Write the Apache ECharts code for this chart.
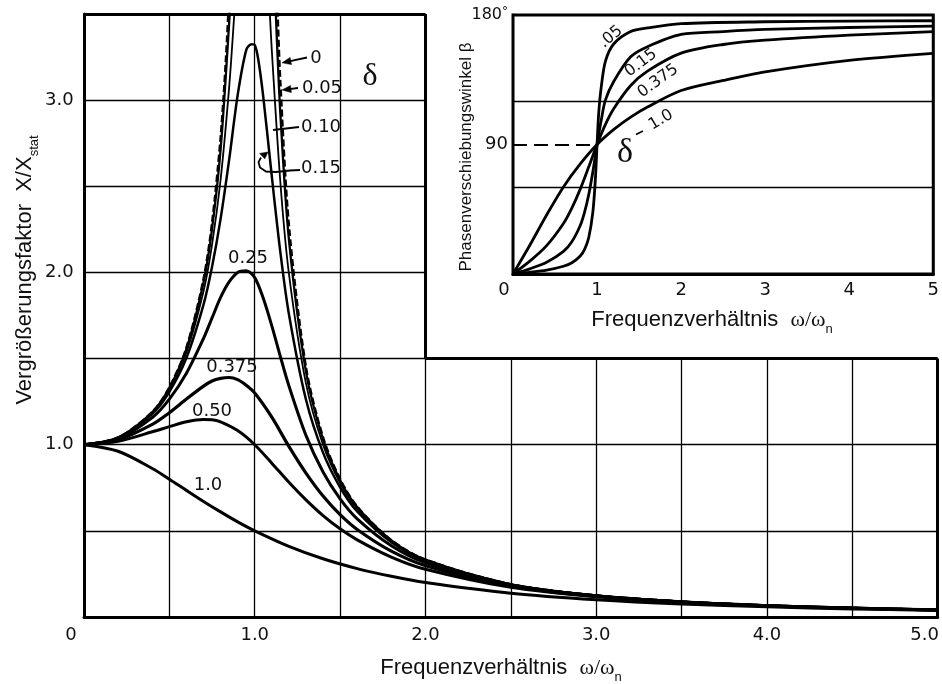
<!DOCTYPE html>
<html><head><meta charset="utf-8">
<script src="https://cdn.jsdelivr.net/npm/echarts@6/dist/echarts.min.js"></script>
<style>html,body{margin:0;padding:0;background:#fff}#c{width:942px;height:684px}</style>
</head><body><div id="c"></div>
<script>
// ---------- Vergrößerungsfaktor X/Xstat (main chart) ----------
const ampX_d0   = [0,0.2,0.4,0.5,0.6,0.7,0.75,0.8,0.83,0.85,0.87,1.0,1.12,1.13,1.15,1.2,1.3,1.4,1.5,1.6,1.8,2.0,2.5,3.0,3.5,4.0,4.5,5.0];
const ampY_d0   = [1,1.042,1.190,1.333,1.563,1.961,2.286,2.778,3.214,3.604,4.113,'-',3.931,3.611,3.101,2.273,1.449,1.042,0.800,0.641,0.446,0.333,0.190,0.125,0.089,0.067,0.052,0.042];
const ampX_d005 = [0,0.2,0.4,0.5,0.6,0.7,0.75,0.8,0.85,0.86,0.9,1.0,1.1,1.12,1.13,1.15,1.2,1.3,1.4,1.5,1.6,1.8,2.0,2.5,3.0,3.5,4.0,4.5,5.0];
const ampY_d005 = [1,1.041,1.189,1.330,1.556,1.943,2.253,2.712,3.446,3.647,4.756,'-',4.218,3.598,3.344,2.921,2.193,1.424,1.031,0.794,0.638,0.445,0.333,0.190,0.125,0.089,0.067,0.052,0.042];
const ampX_d010 = [0,0.2,0.4,0.5,0.6,0.7,0.75,0.8,0.85,0.88,0.89,0.9,1.0,1.08,1.09,1.1,1.15,1.2,1.3,1.4,1.5,1.6,1.8,2.0,2.5,3.0,3.5,4.0,4.5,5.0];
const ampY_d010 = [1,1.041,1.185,1.322,1.536,1.891,2.162,2.538,3.073,3.495,3.654,3.821,'-',3.667,3.473,3.288,2.525,1.995,1.356,1.0,0.778,0.628,0.441,0.330,0.190,0.125,0.089,0.067,0.052,0.042];
const ampX_d015 = [0,0.2,0.4,0.5,0.6,0.7,0.75,0.8,0.85,0.9,0.95,0.98,1.0,1.02,1.05,1.1,1.15,1.2,1.3,1.4,1.5,1.6,1.8,2.0,2.5,3.0,3.5,4.0,4.5,5.0];
const ampY_d015 = [1,1.040,1.179,1.307,1.504,1.813,2.033,2.311,2.653,3.029,3.29,3.325,3.32,3.24,3.019,2.557,2.118,1.759,1.262,0.954,0.753,0.613,0.434,0.327,0.189,0.124,0.089,0.067,0.052,0.042];
const ampX_d025 = [0,0.2,0.4,0.5,0.6,0.7,0.75,0.8,0.85,0.9,0.95,1.0,1.05,1.1,1.15,1.2,1.3,1.4,1.5,1.6,1.8,2.0,2.5,3.0,3.5,4.0,4.5,5.0];
const ampY_d025 = [1,1.036,1.158,1.265,1.415,1.617,1.736,1.855,1.945,2.0,2.01,1.97,1.85,1.690,1.512,1.342,1.054,0.842,0.686,0.570,0.414,0.316,0.185,0.123,0.088,0.066,0.052,0.041];
const ampX_d0375 = [0,0.2,0.4,0.5,0.6,0.7,0.75,0.8,0.85,0.9,0.95,1.0,1.1,1.2,1.3,1.4,1.5,1.6,1.8,2.0,2.5,3.0,3.5,4.0,4.5,5.0];
const ampY_d0375 = [1,1.029,1.118,1.186,1.265,1.340,1.370,1.385,1.390,1.378,1.345,1.300,1.160,0.990,0.835,0.702,0.594,0.508,0.382,0.298,0.179,0.120,0.087,0.065,0.051,0.041];
const ampX_d050 = [0,0.2,0.4,0.5,0.6,0.7,0.75,0.8,0.9,1.0,1.1,1.2,1.3,1.4,1.5,1.6,1.8,2.0,2.5,3.0,3.5,4.0,4.5,5.0];
const ampY_d050 = [1,1.020,1.075,1.105,1.133,1.146,1.145,1.133,1.082,1.0,0.893,0.782,0.680,0.589,0.512,0.448,0.348,0.277,0.172,0.117,0.085,0.064,0.051,0.041];
const ampX_d100 = [0,0.2,0.4,0.5,0.6,0.7,0.8,0.9,1.0,1.2,1.4,1.6,1.8,2.0,2.5,3.0,3.5,4.0,4.5,5.0];
const ampY_d100 = [1,0.962,0.862,0.8,0.735,0.671,0.610,0.552,0.5,0.410,0.338,0.281,0.236,0.2,0.138,0.1,0.075,0.059,0.047,0.038];

// ---------- Phasenverschiebungswinkel β (inset) ----------
const phX_d005 = [0,0.2,0.4,0.6,0.7,0.8,0.85,0.9,0.95,0.98,1.0,1.02,1.05,1.1,1.2,1.4,1.6,2.0,3.0,4.0,5.0];
const phY_d005 = [0,1.2,2.7,5.4,7.8,12.5,17,25,43,66,90,112,130,148,160,168.5,171,174,175.3,175.8,176];
const phX_d015 = [0,0.2,0.4,0.6,0.7,0.8,0.85,0.9,0.95,1.0,1.05,1.1,1.2,1.4,1.6,2.0,2.5,3.0,4.0,5.0];
const phY_d015 = [0,3.6,8.1,15.7,22.4,33.7,42.6,54.9,71.1,90,107,121,134,151,158,166.5,168.5,170,171.3,172.3];
const phX_d0375 = [0,0.2,0.4,0.6,0.7,0.8,0.9,1.0,1.1,1.2,1.4,1.6,2.0,2.5,3.0,4.0,5.0];
const phY_d0375 = [0,8.9,19.7,35.1,45.8,59,74.3,90,104,115,131,141,153.5,159.5,162.5,166,168.4];
const phX_d100 = [0,0.2,0.4,0.6,0.8,1.0,1.2,1.4,1.6,2.0,2.5,3.0,4.0,5.0];
const phY_d100 = [0,20,41,60.5,76.5,90,100.5,109,116,127.5,134.5,140.5,148.5,153.4];

// ---------- axes / grid values ----------
const mainXMax = 5.0, mainYMax = 3.5;
const mainXLabels = [0,1,2,3,4,5];
const mainYLabels = [1,2,3];
const mainGridX = [0.5,1.0,1.5,2.0,2.5,3.0,3.5,4.0,4.5];
const mainGridY = [0.5,1.0,1.5,2.0,2.5,3.0];
const insetCorner = [2.0, 1.5];          // main-plot cut-out corner (x, y)
const insetGridY = [60,120];
const insetYLabels = [90,180];
const insetRefAngle = 90, insetRefX = 1;

const pairs = (xs, ys) => xs.map((x, i) => [x, ys[i]]);

const thinSegs = [], thickSegs = [];
mainGridX.forEach(x => {
  const top = x < insetCorner[0] ? mainYMax : insetCorner[1];
  thinSegs.push([{coord:[x,0]},{coord:[x,top]}]);
});
mainGridY.forEach(y => {
  const right = y < insetCorner[1] ? mainXMax : insetCorner[0];
  thinSegs.push([{coord:[0,y]},{coord:[right,y]}]);
});
thickSegs.push([{coord:[0,mainYMax]},{coord:[insetCorner[0],mainYMax]}]);
thickSegs.push([{coord:[insetCorner[0],mainYMax]},{coord:[insetCorner[0],insetCorner[1]]}]);
thickSegs.push([{coord:[insetCorner[0],insetCorner[1]]},{coord:[mainXMax,insetCorner[1]]}]);
thickSegs.push([{coord:[mainXMax,insetCorner[1]]},{coord:[mainXMax,0]}]);

const insetSegs = insetGridY.map(v => [{coord:[0,v]},{coord:[5,v]}]);

const NUM = '"DejaVu Sans", sans-serif';
const SANS = '"Liberation Sans", Arial, sans-serif';
const SERIF = '"Liberation Serif", "Times New Roman", serif';

function ampSeries(xs, ys, width, dashed) {
  return {type:'line', xAxisIndex:0, yAxisIndex:0, data:pairs(xs, ys), symbol:'none', showSymbol:false,
    smooth:0.3, connectNulls:false, clip:true, silent:true, z:3,
    lineStyle:{color:'#000', width:width, type: dashed ? [7,3] : 'solid', cap:'butt', join:'round'}};
}
function phSeries(xs, ys, width) {
  return {type:'line', xAxisIndex:1, yAxisIndex:1, data:pairs(xs, ys), symbol:'none', showSymbol:false,
    smooth:0.3, clip:true, silent:true, z:3,
    lineStyle:{color:'#000', width:width, join:'round'}};
}
function lineMarker(xi, yi, segs, style) {
  return {type:'line', xAxisIndex:xi, yAxisIndex:yi, data:[], silent:true, clip:false, z:2,
    markLine:{silent:true, symbol:['none','none'], label:{show:false}, animation:false,
      emphasis:{disabled:true}, lineStyle:Object.assign({color:'#000'}, style), data:segs}};
}

const chart = echarts.init(document.getElementById('c'), null, {renderer:'canvas'});

const numRich = {
  n:{fontSize:18, fontFamily:NUM, color:'#111'},
  z:{fontSize:18, fontFamily:NUM, color:'#111', padding:[0,26,0,0]},
  e:{fontSize:18, fontFamily:NUM, color:'#111', padding:[0,26,0,0]},
  zi:{fontSize:18, fontFamily:NUM, color:'#111', padding:[0,18,0,0]},
  a:{fontSize:16, fontFamily:NUM, color:'#111'},
  d:{fontSize:12, fontFamily:NUM, color:'#111', verticalAlign:'top', padding:[0,0,6,0]}
};

function T(x, y, text, font, rot) {
  return {type:'text', x:x, y:y, z:100, silent:true, rotation: rot || 0,
    style:{text:text, fill:'#111', font:font, align:'center', verticalAlign:'middle',
           textAlign:'center', textVerticalAlign:'middle'}};
}
function PL(points, w) {
  return {type:'polyline', z:100, silent:true, shape:{points:points}, style:{stroke:'#000', lineWidth:w || 1.8, fill:null}};
}
function PG(points) {
  return {type:'polygon', z:100, silent:true, shape:{points:points}, style:{fill:'#000', stroke:'#000', lineWidth:0.5}};
}
const deg = Math.PI / 180;
const LBL = '18px ' + NUM;
const LBL2 = '16px ' + NUM;

const titleRich = () => ({
  a:{fontSize:22, fontFamily:SANS, lineHeight:32, verticalAlign:'middle', fill:'#111', color:'#111'},
  b:{fontSize:22, fontFamily:SERIF, lineHeight:32, verticalAlign:'middle', fill:'#111', color:'#111'},
  c:{fontSize:13, fontFamily:SANS, lineHeight:13, verticalAlign:'bottom', fill:'#111', color:'#111'}
});

const graphics = [
  {type:'text', x:501, y:668, z:100, silent:true,
   style:{text:'{a|Frequenzverhältnis  }{b|ω/ω}{c|n}', rich:titleRich(), align:'center', verticalAlign:'middle', textAlign:'center', textVerticalAlign:'middle'}},
  {type:'text', x:25, y:270, z:100, silent:true, rotation:Math.PI/2,
   style:{text:'{a|Vergrößerungsfaktor  X/X}{c|stat}', rich:titleRich(), align:'center', verticalAlign:'middle', textAlign:'center', textVerticalAlign:'middle'}},
  {type:'text', x:712, y:320, z:100, silent:true,
   style:{text:'{a|Frequenzverhältnis  }{b|ω/ω}{c|n}', rich:titleRich(), align:'center', verticalAlign:'middle', textAlign:'center', textVerticalAlign:'middle'}},
  T(466, 157, 'Phasenverschiebungswinkel β', '17px ' + SANS, Math.PI/2),

  T(316, 58, '0', LBL),
  T(322, 88, '0.05', LBL),
  T(321, 127, '0.10', LBL),
  T(321, 168, '0.15', LBL),
  T(370, 77, 'δ', '32px ' + SERIF),
  T(248, 258, '0.25', LBL),
  T(232, 367, '0.375', LBL),
  T(212, 411, '0.50', LBL),
  T(208, 485, '1.0', LBL),
  PL([[307,57.5],[289,61.3]]),
  PG([[282,62.8],[291.5,64.6],[290.1,57.4]]),
  PL([[298,88],[289,89.2]]),
  PG([[282,90],[291.4,92.6],[290.5,85.4]]),
  PL([[299,127],[273,130]]),
  PL([[300,170],[290,170.5],[276,172],[266,171.5],[260,167.5],[258.5,162],[261,157.5]]),
  PG([[268,152],[264.8,158.8],[259.6,153.4]]),

  T(611, 37, '.05', LBL2, 40*deg),
  T(641, 63, '0.15', LBL2, 37*deg),
  T(658, 81, '0.375', LBL2, 36*deg),
  T(661, 120, '1.0', LBL2, 31*deg),
  PL([[636,134.5],[643,131]], 1.8),
  T(625, 153, 'δ', '34px ' + SERIF)
];

const option = {
  animation:false,
  backgroundColor:'#fff',
  grid:[
    {left:84, right:4, top:14, bottom:67},
    {left:513, right:5, top:15, bottom:410, show:true, borderColor:'#000', borderWidth:3, backgroundColor:'#fff', z:1}
  ],
  xAxis:[
    {gridIndex:0, type:'value', min:0, max:mainXMax, interval:1,
     axisLine:{show:true, onZero:false, lineStyle:{color:'#000', width:3}}, axisTick:{show:false}, splitLine:{show:false},
     axisLabel:{margin:9, rich:numRich, showMaxLabel:true,
       formatter:v => mainXLabels.indexOf(v) < 0 ? '' : (v === 0 ? '{z|0}' : (v === mainXMax ? '{e|' + v.toFixed(1) + '}' : '{n|' + v.toFixed(1) + '}'))}},
    {gridIndex:1, type:'value', min:0, max:5, interval:1,
     axisLine:{show:true, onZero:false, lineStyle:{color:'#000', width:3}}, axisTick:{show:false},
     splitLine:{show:true, lineStyle:{color:'#000', width:1.3}},
     axisLabel:{margin:7, rich:numRich, formatter:v => v === 0 ? '{zi|0}' : '{n|' + v + '}'}}
  ],
  yAxis:[
    {gridIndex:0, type:'value', min:0, max:mainYMax, interval:0.5,
     axisLine:{show:true, onZero:false, lineStyle:{color:'#000', width:3}}, axisTick:{show:false}, splitLine:{show:false},
     axisLabel:{margin:39, align:'left', rich:numRich,
       formatter:v => mainYLabels.indexOf(v) < 0 ? '' : '{n|' + v.toFixed(1) + '}'}},
    {gridIndex:1, type:'value', min:0, max:180, interval:30,
     axisLine:{show:true, onZero:false, lineStyle:{color:'#000', width:3}}, axisTick:{show:false}, splitLine:{show:false},
     axisLabel:{margin:5, rich:numRich,
       formatter:v => insetYLabels.indexOf(v) < 0 ? '' : (v === 180 ? '{a|180}{d|°}' : '{n|' + v + '}')}}
  ],
  series:[
    lineMarker(0, 0, thinSegs, {width:1.3, type:'solid'}),
    lineMarker(0, 0, thickSegs, {width:3, type:'solid'}),
    ampSeries(ampX_d100, ampY_d100, 3),
    ampSeries(ampX_d050, ampY_d050, 3),
    ampSeries(ampX_d0375, ampY_d0375, 3.2),
    ampSeries(ampX_d025, ampY_d025, 3),
    ampSeries(ampX_d015, ampY_d015, 2.5),
    ampSeries(ampX_d010, ampY_d010, 1.8),
    ampSeries(ampX_d005, ampY_d005, 2.3),
    ampSeries(ampX_d0, ampY_d0, 2.5, true),
    lineMarker(1, 1, insetSegs, {width:1.3, type:'solid'}),
    lineMarker(1, 1, [[{coord:[0,insetRefAngle]},{coord:[insetRefX,insetRefAngle]}]], {width:1.8, type:[14,7]}),
    phSeries(phX_d100, phY_d100, 2.8),
    phSeries(phX_d0375, phY_d0375, 2.8),
    phSeries(phX_d015, phY_d015, 2.8),
    phSeries(phX_d005, phY_d005, 2.8)
  ],
  graphic: graphics
};
chart.setOption(option);
</script>
</body></html>
